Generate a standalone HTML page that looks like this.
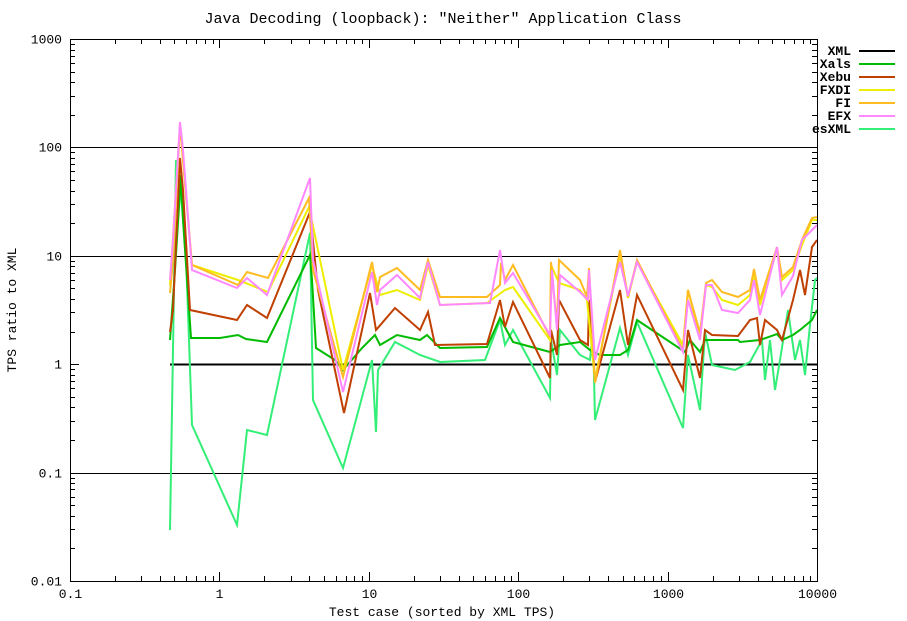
<!DOCTYPE html>
<html><head><meta charset="utf-8"><style>
body{margin:0;background:#fff;}
svg{display:block;font-family:"Liberation Mono",monospace;font-size:13px;}
</style></head><body>
<svg id="s" width="907" height="621" xmlns="http://www.w3.org/2000/svg">
<rect width="907" height="621" fill="#fff"/>
<text x="443" y="23" text-anchor="middle" style="font-size:15px">Java Decoding (loopback): "Neither" Application Class</text>
<g id="grid" stroke="#000" stroke-width="1" fill="none"></g>
<line x1="170" y1="364.5" x2="817" y2="364.5" stroke="#000" stroke-width="2"/>
<g id="series" fill="none" stroke-width="2" stroke-linejoin="miter"></g>
<rect x="70.5" y="39.5" width="747" height="542" fill="none" stroke="#000"/>
<g id="labels"></g>
<text x="442" y="616" text-anchor="middle">Test case (sorted by XML TPS)</text>
<text transform="translate(16,310) rotate(-90)" text-anchor="middle">TPS ratio to XML</text>
<g id="legend"></g>
</svg>
<script>
var ns="http://www.w3.org/2000/svg";
function el(p,t,a,txt){var e=document.createElementNS(ns,t);for(var k in a)e.setAttribute(k,a[k]);if(txt)e.textContent=txt;p.appendChild(e);return e;}
var g=document.getElementById('grid'),L=document.getElementById('labels');
var X0=70,X1=817,Y0=581,Y1=39;
function xp(v){return X0+(Math.log10(v)+1)/5*(X1-X0);}
function yp(v){return Y0-(Math.log10(v)+2)/5*(Y0-Y1);}
var yl=["0.01","0.1","1","10","100","1000"];
for(var i=0;i<6;i++){var v=Math.pow(10,i-2),y=Math.round(yp(v))+0.5;
 if(i>0&&i<5&&i!=2)el(g,'line',{x1:70,y1:y,x2:817,y2:y});
 el(g,'line',{x1:70,y1:y,x2:79,y2:y});el(g,'line',{x1:808,y1:y,x2:817,y2:y});
 el(L,'text',{x:62,y:y+4,'text-anchor':'end'},yl[i]);
 if(i<5)for(var m=2;m<10;m++){var yy=Math.round(yp(v*m))+0.5;el(g,'line',{x1:70,y1:yy,x2:75,y2:yy});el(g,'line',{x1:812,y1:yy,x2:817,y2:yy});}}
var xl=["0.1","1","10","100","1000","10000"];
for(var i=0;i<6;i++){var v=Math.pow(10,i-1),x=Math.round(xp(v))+0.5;
 el(g,'line',{x1:x,y1:581,x2:x,y2:572});el(g,'line',{x1:x,y1:39,x2:x,y2:48});
 el(L,'text',{x:x,y:598,'text-anchor':'middle'},xl[i]);
 if(i<5)for(var m=2;m<10;m++){var xx=Math.round(xp(v*m))+0.5;el(g,'line',{x1:xx,y1:581,x2:xx,y2:576});el(g,'line',{x1:xx,y1:39,x2:xx,y2:44});}}
var S=document.getElementById('series');
var data=[
["#33ee77","170,530 173,350 176,160 181,195 186,255 192,425 237,525 247,430 267,435 310,233 313,400 343,468 372,360 376,432 378,370 395,342 420,355 440,362 485,360 500,320 505,345 513,330 550,398 551,340 557,375 560,330 580,355 590,360 593,330 595,420 620,328 628,355 637,322 683,428 688,355 700,410 705,332 712,365 735,370 750,362 762,340 765,380 770,340 775,390 780,360 788,310 795,360 800,340 805,375 810,325 815,280 817,278"],
["#00bb00","170,340 175,270 181,175 183,220 191,338 220,338 238,335 246,339 267,342 310,255 312,280 316,348 335,360 343,370 362,348 375,335 380,345 397,335 420,340 427,335 440,348 487,347 500,318 513,342 550,352 560,345 580,342 590,350 600,355 620,355 628,350 637,320 685,352 690,340 700,352 705,340 712,340 738,340 740,342 760,340 777,334 782,340 793,335 800,330 812,320 817,310"],
["#c04000","170,332 173,310 180,158 183,190 190,310 237,320 247,305 267,318 310,212 318,290 344,413 370,293 376,330 395,308 420,330 428,312 435,345 487,344 500,300 505,327 513,302 550,378 551,330 557,355 559,300 580,340 588,345 589,300 595,382 620,290 628,345 637,295 683,390 688,330 700,378 705,330 712,335 738,336 750,320 757,318 760,345 765,320 777,330 782,340 793,300 800,270 805,295 812,247 817,240"],
["#eeee00","170,285 180,125 192,265 238,280 268,292 309,207 343,370 372,265 380,295 397,290 420,300 428,265 440,305 487,303 505,290 513,287 550,340 551,265 559,283 580,290 587,300 595,380 620,255 628,298 637,262 683,345 688,290 700,338 706,285 712,287 722,300 738,305 750,295 754,275 760,305 777,250 782,280 793,270 802,245 812,220 817,220"],
["#ffbb22","170,293 173,260 180,123 183,160 192,265 238,285 247,272 268,278 309,198 313,270 343,377 372,262 377,292 380,277 397,268 420,290 428,260 440,297 487,297 500,285 501,263 505,280 513,265 550,337 551,262 557,327 559,260 580,280 587,297 589,268 595,383 620,250 628,297 637,260 683,350 688,290 700,333 706,283 712,280 722,292 738,297 750,290 754,269 760,300 777,247 782,277 793,267 802,240 812,218 817,217"],
["#ff88ff","170,280 173,240 180,122 183,150 192,270 237,288 247,278 267,295 310,178 313,260 343,392 372,272 377,305 380,290 397,275 420,298 428,262 440,305 490,303 500,250 505,283 513,273 550,335 552,270 557,330 560,275 580,292 588,300 589,270 595,360 620,262 628,296 637,262 683,352 688,300 700,340 706,285 712,285 722,310 738,313 750,300 754,280 760,315 777,247 782,295 793,276 802,240 812,230 817,225"]];
data.forEach(function(d){el(S,'polyline',{points:d[1],stroke:d[0]});});
var Lg=document.getElementById('legend');
var leg=[["XML","#000"],["Xals","#00bb00"],["Xebu","#c04000"],["FXDI","#eeee00"],["FI","#ffbb22"],["EFX","#ff88ff"],["esXML","#33ee77"]];
leg.forEach(function(l,i){var y=51+i*13;el(Lg,'text',{x:851,y:y+4,'text-anchor':'end','font-weight':'bold'},l[0]);el(Lg,'line',{x1:859,y1:y,x2:895,y2:y,stroke:l[1],'stroke-width':2});});
</script>
</body></html>
